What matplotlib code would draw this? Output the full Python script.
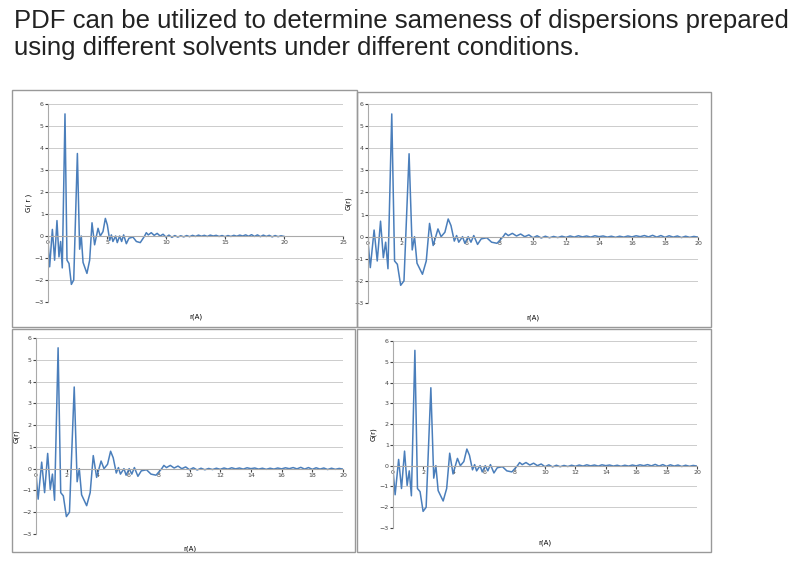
import matplotlib
matplotlib.use("Agg")
import matplotlib.pyplot as plt
from matplotlib.patches import Rectangle

W, H = 809, 564

r_head = [0, 0.14, 0.37, 0.56, 0.76, 0.93, 1.07, 1.21, 1.44, 1.61, 1.78, 1.98, 2.18, 2.49,
          2.68, 2.82, 2.97, 3.3, 3.53, 3.73, 3.95, 4.24, 4.43, 4.66, 4.86, 5.03, 5.23, 5.37,
          5.5, 5.73, 5.87, 6.07, 6.24, 6.41, 6.64, 6.86, 7.2, 7.49, 7.82, 8.19, 8.33]
g_head = [-0.2, -1.4, 0.3, -1.1, 0.7, -0.95, -0.25, -1.45, 5.55, -1.1, -1.25, -2.2, -2.0, 3.75,
          -0.6, 0.0, -1.2, -1.7, -1.1, 0.6, -0.4, 0.35, 0.0, 0.2, 0.8, 0.5, -0.2, 0.05,
          -0.25, 0.0, -0.3, 0.0, -0.25, 0.05, -0.35, -0.1, -0.05, -0.25, -0.3, 0.0, 0.15]
r_tail = [8.5, 8.75, 9.0, 9.25, 9.5, 9.75, 10.0, 10.25, 10.5, 10.75, 11.0, 11.25, 11.5, 11.75,
          12.0, 12.25, 12.5, 12.75, 13.0, 13.25, 13.5, 13.75, 14.0, 14.25, 14.5, 14.75, 15.0,
          15.25, 15.5, 15.75, 16.0, 16.25, 16.5, 16.75, 17.0, 17.25, 17.5, 17.75, 18.0, 18.25,
          18.5, 18.75, 19.0, 19.25, 19.5, 19.75, 20.0]
g_tail = [0.05, 0.15, 0.03, 0.12, 0.0, 0.08, -0.05, 0.04, -0.06, 0.02, -0.05, 0.01, -0.04, 0.02,
          -0.03, 0.03, -0.02, 0.04, -0.01, 0.03, -0.02, 0.04, 0.0, 0.03, -0.02, 0.02, -0.03,
          0.02, -0.02, 0.03, -0.01, 0.04, 0.0, 0.05, -0.01, 0.06, -0.02, 0.05, -0.03, 0.04,
          -0.02, 0.03, -0.04, 0.02, -0.03, 0.01, -0.02]
r_vals = r_head + r_tail
g_vals = g_head + g_tail

# panel frame (px) and plot area (x0, x1, y_top(6), y_bottom(-3)), x max, x ticks, y label
panels = [
    ((12, 90, 357, 327), (48, 343, 104, 302), 25, [0, 5, 10, 15, 20, 25], "G( r )"),
    ((357, 92, 711, 327), (368, 698, 104, 303), 20, list(range(0, 21, 2)), "G(r)"),
    ((12, 329, 355, 552), (36, 343, 338, 534), 20, list(range(0, 21, 2)), "G(r)"),
    ((357, 329, 711, 552), (393, 697, 341, 528), 20, list(range(0, 21, 2)), "G(r)"),
]

fig = plt.figure(figsize=(W / 100, H / 100), dpi=100)
fig.text(14 / W, 1 - 9 / H, "PDF can be utilized to determine sameness of dispersions prepared\n"
         "using different solvents under different conditions.",
         fontsize=18.5, color="#222222", va="top", ha="left", family="Liberation Sans",
         linespacing=1.15)

for frame, area, xmax, xt, ylab in panels:
    fx0, fy0, fx1, fy1 = frame
    fig.patches.append(Rectangle((fx0 / W, 1 - fy1 / H), (fx1 - fx0) / W, (fy1 - fy0) / H,
                                 transform=fig.transFigure, fill=False, ec="#999999", lw=1))
    x0, x1, yt, yb = area
    ax = fig.add_axes([x0 / W, 1 - yb / H, (x1 - x0) / W, (yb - yt) / H])
    ax.plot(r_vals, g_vals, color="#4a7ebb", lw=1.1)
    ax.set_xlim(0, xmax)
    ax.set_ylim(-3, 6)
    ax.set_yticks(range(-3, 7))
    ax.set_xticks(xt)
    ax.grid(True, axis="y", color="#cccccc", lw=0.7)
    ax.set_axisbelow(True)
    for s in ("top", "right"):
        ax.spines[s].set_visible(False)
    ax.spines["bottom"].set_position(("data", 0))
    ax.spines["bottom"].set_color("#aaaaaa")
    ax.spines["left"].set_color("#aaaaaa")
    ax.tick_params(labelsize=4.5, length=2, colors="#444444", pad=1)
    ax.set_xlabel("r(A)", fontsize=5, labelpad=14)
    ax.xaxis.set_label_coords(0.5, -0.06)
    ax.set_ylabel(ylab, fontsize=5, labelpad=2)

fig.savefig("out.png", dpi=100, facecolor="white")
